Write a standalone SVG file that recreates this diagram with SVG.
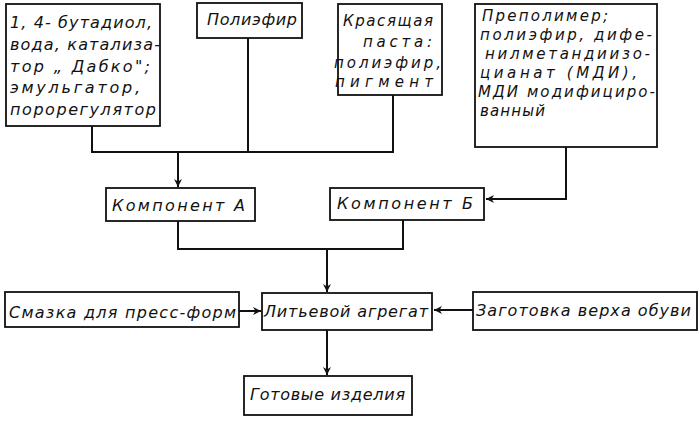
<svg xmlns="http://www.w3.org/2000/svg" width="700" height="421" viewBox="0 0 700 421">
<defs>
<marker id="ah" viewBox="0 0 10 10" refX="10" refY="5" markerWidth="8" markerHeight="8" markerUnits="userSpaceOnUse" orient="auto">
<path d="M0,0 L10,5 L0,10 L3,5 z" fill="#111"/>
</marker>
<style>
.box{fill:#fff;stroke:#111;stroke-width:1.8}
.t{font-family:"DejaVu Sans","Noto Sans",sans-serif;font-style:italic;font-size:16px;fill:#111}
.s{font-size:15px}
.c{fill:none;stroke:#111;stroke-width:2}
.a{fill:none;stroke:#111;stroke-width:2;marker-end:url(#ah)}
</style>
</defs>
<rect width="700" height="421" fill="#fff"/>
<g id="connectors">
<path class="c" d="M92,126 V152 H393 V95"/>
<path class="c" d="M248,38 V152"/>
<path class="a" d="M178,152 V187"/>
<path class="a" d="M566,147 V199 H486"/>
<path class="c" d="M178,221 V249 H403 V220"/>
<path class="a" d="M327,249 V292"/>
<path class="a" d="M239,311 H261"/>
<path class="a" d="M473,310 H434"/>
<path class="a" d="M327,330 V375"/>
</g>
<g id="n1">
<rect class="box" x="6" y="4" width="154" height="122"/>
<text class="t" x="10" y="28" textLength="142">1, 4- бутадиол,</text>
<text class="t" x="10" y="50" textLength="150">вода, катализа-</text>
<text class="t" x="10" y="72" textLength="140">тор „ Дабко";</text>
<text class="t" x="10" y="93" textLength="130">эмульгатор,</text>
<text class="t" x="10" y="115" textLength="146">порорегулятор</text>
</g>
<g id="n2">
<rect class="box" x="197" y="3" width="105" height="35"/>
<text class="t" x="207" y="25" textLength="90">Полиэфир</text>
</g>
<g id="n3">
<rect class="box" x="338" y="4" width="104" height="91"/>
<text class="t s" x="343" y="26" textLength="90">Красящая</text>
<text class="t s" x="363" y="47" textLength="69">паста:</text>
<text class="t s" x="334" y="68" textLength="107">полиэфир,</text>
<text class="t s" x="335" y="87" textLength="98">пигмент</text>
</g>
<g id="n4">
<rect class="box" x="475" y="4" width="182" height="143"/>
<text class="t s" x="482" y="21" textLength="126">Преполимер;</text>
<text class="t s" x="480" y="40" textLength="172">полиэфир, дифе-</text>
<text class="t s" x="485" y="59" textLength="165">нилметандиизо-</text>
<text class="t s" x="480" y="78" textLength="157">цианат (МДИ),</text>
<text class="t s" x="478" y="97" textLength="177">МДИ модифициро-</text>
<text class="t s" x="480" y="116" textLength="65">ванный</text>
</g>
<g id="nA">
<rect class="box" x="106" y="188" width="149" height="33"/>
<text class="t" x="112" y="211" textLength="133">Компонент А</text>
</g>
<g id="nB">
<rect class="box" x="330" y="188" width="154" height="32"/>
<text class="t" x="337" y="209" textLength="136">Компонент Б</text>
</g>
<g id="nS">
<rect class="box" x="5" y="292" width="234" height="35"/>
<text class="t" x="9" y="318" textLength="227">Смазка для пресс-форм</text>
</g>
<g id="nL">
<rect class="box" x="262" y="293" width="170" height="37"/>
<text class="t" x="264" y="317" textLength="164">Литьевой агрегат</text>
</g>
<g id="nZ">
<rect class="box" x="473" y="292" width="224" height="38"/>
<text class="t" x="476" y="316" textLength="215">Заготовка верха обуви</text>
</g>
<g id="nG">
<rect class="box" x="244" y="376" width="168" height="39"/>
<text class="t" x="250" y="400" textLength="155">Готовые изделия</text>
</g>
</svg>
